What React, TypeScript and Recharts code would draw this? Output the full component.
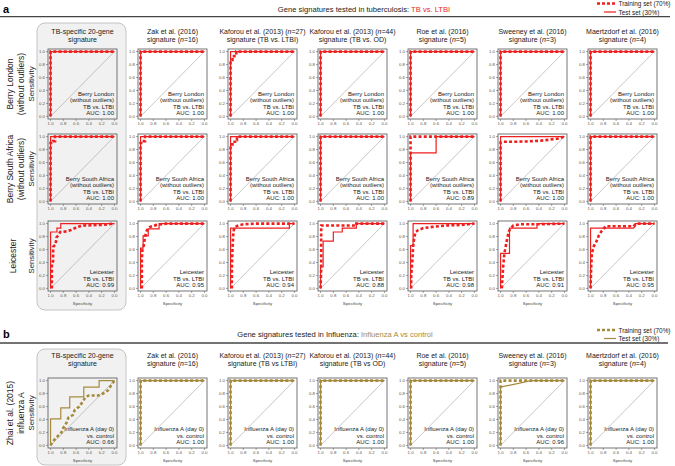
import { LineChart, Line, XAxis, YAxis, ReferenceLine } from 'recharts';

type Pt = [number, number]; // [specificity, sensitivity]

const RED = '#ee1f1f';
const GOLD = '#a68a3c';
const FONT = '"Liberation Sans", Arial, Helvetica, sans-serif';

const TICKS = [0, 0.2, 0.4, 0.6, 0.8, 1];

const SIG_TITLES_A = [
  ['TB-specific 20-gene', 'signature'],
  ['Zak et al. (2016)', 'signature (n=16)'],
  ['Kaforou et al. (2013) (n=27)', 'signature (TB vs. LTBI)'],
  ['Kaforou et al. (2013) (n=44)', 'signature (TB vs. OD)'],
  ['Roe et al. (2016)', 'signature (n=5)'],
  ['Sweeney et al. (2016)', 'signature (n=3)'],
  ['Maertzdorf et al. (2016)', 'signature (n=4)'],
];
const SIG_TITLES_B = [
  ['TB-specific 20-gene', 'signature'],
  ['Zak et al. (2016)', 'signature (n=16)'],
  ['Kaforou et al. (2013) (n=27)', 'signature (TB vs LTBI)'],
  ['Kaforou et al. (2013) (n=44)', 'signature (TB vs OD)'],
  ['Roe et al. (2016)', 'signature (n=5)'],
  ['Sweeney et al. (2016)', 'signature (n=3)'],
  ['Maertzdorf et al. (2016)', 'signature (n=4)'],
];

const ROW_LABELS_A = [
  ['Berry London', '(without outliers)'],
  ['Berry South Africa', '(without outliers)'],
  ['Leicester'],
];
const ROW_NOTES_A = [
  ['Berry London', '(without outliers)', 'TB vs. LTBI'],
  ['Berry South Africa', '(without outliers)', 'TB vs. LTBI'],
  ['Leicester', 'TB vs. LTBI'],
];
const ROW_LABEL_B = ['Zhai et al. (2015)', 'influenza A'];
const ROW_NOTES_B = ['Influenza A (day 0)', 'vs. control'];

const AUC_LONDON = [1.0, 1.0, 1.0, 1.0, 1.0, 1.0, 1.0];
const AUC_SOUTH_AFRICA = [1.0, 1.0, 1.0, 1.0, 0.89, 1.0, 1.0];
const AUC_LEICESTER = [0.99, 0.95, 0.94, 0.88, 0.98, 0.91, 0.95];
const AUC_INFLUENZA = [0.66, 1.0, 1.0, 1.0, 1.0, 0.96, 1.0];

const PERFECT: Pt[] = [[1, 0], [1, 1], [0, 1]];

// Berry London
const lonKaf27Train: Pt[] = [[1, 0], [1, 0.87], [0.97, 0.87], [0.97, 0.93], [0.91, 0.93], [0.91, 1], [0, 1]];

// Berry South Africa
const saTb20Train: Pt[] = [[1, 0], [1, 0.9], [0.96, 0.9], [0.96, 0.93], [0.93, 0.93], [0.93, 1], [0, 1]];
const saZakTrain: Pt[] = [[1, 0], [1, 0.9], [0.97, 0.9], [0.97, 0.93], [0.93, 0.93], [0.93, 1], [0, 1]];
const saKaf27Train: Pt[] = [[1, 0], [1, 0.88], [0.97, 0.88], [0.97, 0.92], [0.93, 0.92], [0.93, 0.95], [0.9, 0.95], [0.9, 1], [0, 1]];
const saRoeTest: Pt[] = [[1, 0], [1, 0.75], [0.6, 0.75], [0.6, 1], [0, 1]];
const saSweeneyTrain: Pt[] = [[1, 0], [1, 0.91], [0.97, 0.92], [0.8, 0.92], [0.6, 0.925], [0.4, 0.935], [0.25, 0.95], [0.1, 0.97], [0, 1]];

// Leicester
const leiTb20Test: Pt[] = [[1, 0], [1, 0.87], [0.9, 0.87], [0.9, 0.93], [0.84, 0.93], [0.84, 1], [0, 1]];
const leiTb20Train: Pt[] = [[0.98, 0], [0.98, 0.39], [0.96, 0.42], [0.96, 0.64], [0.92, 0.68], [0.91, 0.78], [0.88, 0.82], [0.85, 0.87], [0.75, 0.88], [0.68, 0.9], [0.6, 0.94], [0.5, 0.97], [0.2, 0.98], [0, 1]];
const leiZakTest: Pt[] = [[1, 0], [1, 0.62], [0.96, 0.62], [0.96, 0.81], [0.88, 0.81], [0.88, 0.92], [0.71, 0.92], [0.71, 1], [0, 1]];
const leiZakTrain: Pt[] = [[0.98, 0], [0.98, 0.45], [0.97, 0.6], [0.95, 0.66], [0.93, 0.8], [0.9, 0.9], [0.85, 0.95], [0.75, 0.98], [0.6, 1], [0, 1]];
const leiKaf27Test: Pt[] = [[1, 0], [1, 0.93], [0.08, 0.93], [0.08, 1], [0, 1]];
const leiKaf27Train: Pt[] = [[0.98, 0], [0.98, 0.3], [0.97, 0.6], [0.96, 0.8], [0.95, 0.9], [0.93, 0.95], [0.88, 0.97], [0.8, 0.99], [0.6, 1], [0, 1]];
const leiKaf44Test: Pt[] = [[1, 0], [1, 0.33], [0.96, 0.33], [0.96, 0.73], [0.8, 0.73], [0.8, 0.87], [0.66, 0.87], [0.66, 0.93], [0.44, 0.93], [0.44, 1], [0, 1]];
const leiKaf44Train: Pt[] = [[1, 0], [0.99, 0.3], [0.99, 0.97], [0.44, 0.97], [0.44, 1], [0, 1]];
const leiRoeTest: Pt[] = [[1, 0], [1, 0.66], [0.96, 0.66], [0.96, 1], [0, 1]];
const leiRoeTrain: Pt[] = [[0.99, 0], [0.99, 0.2], [0.97, 0.45], [0.96, 0.65], [0.94, 0.8], [0.92, 0.87], [0.88, 0.9], [0.8, 0.93], [0.65, 0.95], [0.45, 0.97], [0.2, 0.98], [0, 1]];
const leiSweeneyTest: Pt[] = [[1, 0], [1, 0.54], [0.86, 0.54], [0.86, 0.93], [0.43, 0.93], [0.43, 1], [0, 1]];
const leiSweeneyTrain: Pt[] = [[0.98, 0], [0.96, 0.33], [0.94, 0.54], [0.9, 0.75], [0.87, 0.88], [0.84, 0.93], [0.8, 0.97], [0.7, 0.99], [0.4, 0.99], [0, 1]];
const leiMaertzdorfTest: Pt[] = [[1, 0], [1, 0.93], [0.33, 0.93], [0.3, 0.96], [0.3, 1], [0, 1]];
const leiMaertzdorfTrain: Pt[] = [[1, 0], [0.99, 0.33], [0.98, 0.54], [0.95, 0.65], [0.91, 0.72], [0.87, 0.82], [0.83, 0.88], [0.76, 0.96], [0.33, 0.96], [0.28, 1], [0, 1]];

// Zhai influenza A
const fluTb20Test: Pt[] = [[1, 0], [1, 0.41], [0.84, 0.41], [0.84, 0.58], [0.7, 0.58], [0.7, 0.75], [0.48, 0.75], [0.48, 0.9], [0.24, 0.9], [0.24, 1], [0, 1]];
const fluTb20Train: Pt[] = [[1, 0], [0.97, 0.05], [0.93, 0.1], [0.88, 0.15], [0.83, 0.2], [0.8, 0.27], [0.75, 0.35], [0.72, 0.43], [0.65, 0.47], [0.62, 0.55], [0.55, 0.6], [0.5, 0.67], [0.45, 0.75], [0.4, 0.77], [0.25, 0.77], [0.18, 0.8], [0.1, 0.85], [0.05, 0.93], [0, 1]];
const fluSweeneyTest: Pt[] = [[1, 0], [1, 0.9], [0.95, 0.91], [0.85, 0.93], [0.7, 0.96], [0.53, 1], [0, 1]];

const TRAIN_A: Pt[][][] = [
  [PERFECT, PERFECT, lonKaf27Train, PERFECT, PERFECT, PERFECT, PERFECT],
  [saTb20Train, saZakTrain, saKaf27Train, PERFECT, PERFECT, saSweeneyTrain, PERFECT],
  [leiTb20Train, leiZakTrain, leiKaf27Train, leiKaf44Train, leiRoeTrain, leiSweeneyTrain, leiMaertzdorfTrain],
];
const TEST_A: Pt[][][] = [
  [PERFECT, PERFECT, PERFECT, PERFECT, PERFECT, PERFECT, PERFECT],
  [PERFECT, PERFECT, PERFECT, PERFECT, saRoeTest, PERFECT, PERFECT],
  [leiTb20Test, leiZakTest, leiKaf27Test, leiKaf44Test, leiRoeTest, leiSweeneyTest, leiMaertzdorfTest],
];
const AUC_A = [AUC_LONDON, AUC_SOUTH_AFRICA, AUC_LEICESTER];
const TRAIN_B: Pt[][] = [fluTb20Train, PERFECT, PERFECT, PERFECT, PERFECT, PERFECT, PERFECT];
const TEST_B: Pt[][] = [fluTb20Test, PERFECT, PERFECT, PERFECT, PERFECT, fluSweeneyTest, PERFECT];

// layout
const COL_X = [48, 138, 228, 318, 408, 498, 588];
const ROW_Y_A = [49, 134, 221];
const ROW_Y_B = 378;
const BOX_W = 69;
const BOX_H = 70;
const Y_AX = 14;
const X_AX = 12;
const PAD_R = 6;

const toRows = (pts: Pt[]) => pts.map(([x, y]) => ({ x, y }));

function Title({ text, x, y }: { text: string; x: number; y: number }) {
  const i = text.indexOf('(n=');
  return (
    <text x={x} y={y} textAnchor="middle" fontSize={7} fill="#222">
      {i < 0 ? text : (
        <>
          {text.slice(0, i + 1)}
          <tspan fontStyle="italic">n</tspan>
          {text.slice(i + 2)}
        </>
      )}
    </text>
  );
}

function Roc({ left, top, train, test, color }: { left: number; top: number; train: Pt[]; test: Pt[]; color: string }) {
  return (
    <div style={{ position: 'absolute', left: left - Y_AX, top: top }}>
      <LineChart width={Y_AX + BOX_W + PAD_R} height={BOX_H + X_AX}
        margin={{ top: 0, right: PAD_R, bottom: 0, left: 0 }}>
        <XAxis type="number" dataKey="x" domain={[-0.04, 1.04]} reversed ticks={TICKS}
          allowDataOverflow tickFormatter={(v: number) => v.toFixed(1)} height={X_AX}
          axisLine={false} tickSize={2} tickMargin={1}
          tickLine={{ stroke: '#666', strokeWidth: 0.6 }}
          tick={{ fontSize: 4.3, fill: '#555', fontFamily: FONT }} />
        <YAxis type="number" dataKey="y" domain={[-0.04, 1.04]} ticks={TICKS}
          allowDataOverflow tickFormatter={(v: number) => v.toFixed(1)} width={Y_AX}
          axisLine={false} tickSize={2} tickMargin={1}
          tickLine={{ stroke: '#666', strokeWidth: 0.6 }}
          tick={{ fontSize: 4.3, fill: '#555', fontFamily: FONT }} />
        <ReferenceLine segment={[{ x: 1, y: 0 }, { x: 0, y: 1 }]} stroke="#a0a0a0" strokeWidth={0.6} />
        <Line data={toRows(test)} dataKey="y" type="linear" stroke={color} strokeWidth={1.2}
          dot={false} isAnimationActive={false} />
        <Line data={toRows(train)} dataKey="y" type="linear" stroke={color} strokeWidth={2.6}
          strokeDasharray="3 2.2" dot={false} isAnimationActive={false} />
      </LineChart>
    </div>
  );
}

function Notes({ lines, auc, col, top }: { lines: string[]; auc: number; col: number; top: number }) {
  const all = [...lines, `AUC: ${auc.toFixed(2)}`];
  const x = COL_X[col] + BOX_W - 3;
  const last = top + BOX_H - 4;
  return (
    <>
      {all.map((t, i) => (
        <text key={i} x={x} y={last - (all.length - 1 - i) * 6.4} textAnchor="end" fontSize={6} fill="#222">{t}</text>
      ))}
    </>
  );
}

function RowLabel({ lines, cy }: { lines: string[]; cy: number }) {
  const xs = lines.length === 1 ? [15.5] : [13, 24];
  return (
    <>
      {lines.map((t, i) => (
        <text key={i} transform={`translate(${xs[i]},${cy}) rotate(-90)`} textAnchor="middle" fontSize={8.5} fill="#222">{t}</text>
      ))}
      <text transform={`translate(34,${cy}) rotate(-90)`} textAnchor="middle" fontSize={7.8} fill="#222">Sensitivity</text>
    </>
  );
}

function Legend({ y, color }: { y: number; color: string }) {
  return (
    <>
      <line x1={597} x2={616} y1={y} y2={y} stroke={color} strokeWidth={2.6} strokeDasharray="3 2" />
      <text x={618.5} y={y + 2.8} fontSize={6.4} fill="#222">Training set (70%)</text>
      <line x1={604} x2={616} y1={y + 8.5} y2={y + 8.5} stroke={color} strokeWidth={1.2} />
      <text x={618.5} y={y + 11.3} fontSize={6.4} fill="#222">Test set (30%)</text>
    </>
  );
}

export default function App() {
  return (
    <div style={{ position: 'absolute', left: 0, top: 0, width: 675, height: 466, background: '#fff', fontFamily: FONT, overflow: 'hidden' }}>
      <svg width={675} height={466} style={{ position: 'absolute', left: 0, top: 0 }} fontFamily={FONT}>
        {/* panel a header */}
        <text x={3} y={12.5} fontSize={11} fontWeight="bold">a</text>
        <text x={364} y={11.5} textAnchor="middle" fontSize={7.6} fill="#222">
          Gene signatures tested in tuberculosis: <tspan fill={RED}>TB vs. LTBI</tspan>
        </text>
        <Legend y={3.5} color={RED} />
        <line x1={0} x2={670} y1={16.7} y2={16.7} stroke="#444" strokeWidth={1.3} />
        <rect x={37} y={23} width={89} height={287} rx={8} fill="#f1f1f1" stroke="#c4c4c4" strokeWidth={1} />
        {SIG_TITLES_A.map((t, c) => (
          <g key={c}>
            <Title text={t[0]} x={COL_X[c] + BOX_W / 2} y={34} />
            <Title text={t[1]} x={COL_X[c] + BOX_W / 2} y={42} />
          </g>
        ))}
        {ROW_LABELS_A.map((l, r) => (
          <RowLabel key={r} lines={l} cy={ROW_Y_A[r] + BOX_H / 2} />
        ))}
        {ROW_Y_A.map((top, r) => COL_X.map((x, c) => (
          <g key={`${r}-${c}`}>
            <rect x={x} y={top} width={BOX_W} height={BOX_H} fill="none" stroke="#666" strokeWidth={0.9} />
            <Notes lines={ROW_NOTES_A[r]} auc={AUC_A[r][c]} col={c} top={top} />
          </g>
        )))}
        {COL_X.map((x, c) => (
          <text key={c} x={x + BOX_W / 2} y={ROW_Y_A[2] + BOX_H + 14} textAnchor="middle" fontSize={4.3} fill="#444">Specificity</text>
        ))}

        {/* panel b header */}
        <text x={3} y={338} fontSize={11} fontWeight="bold">b</text>
        <text x={335} y={337} textAnchor="middle" fontSize={7.6} fill="#222">
          Gene signatures tested in Influenza: <tspan fill={GOLD}>Influenza A vs control</tspan>
        </text>
        <Legend y={330} color={GOLD} />
        <line x1={0} x2={668} y1={343} y2={343} stroke="#444" strokeWidth={1.3} />
        <rect x={37} y={349} width={89} height={116} rx={8} fill="#f1f1f1" stroke="#c4c4c4" strokeWidth={1} />
        {SIG_TITLES_B.map((t, c) => (
          <g key={c}>
            <Title text={t[0]} x={COL_X[c] + BOX_W / 2} y={357.5} />
            <Title text={t[1]} x={COL_X[c] + BOX_W / 2} y={365.5} />
          </g>
        ))}
        <RowLabel lines={ROW_LABEL_B} cy={ROW_Y_B + BOX_H / 2} />
        {COL_X.map((x, c) => (
          <g key={c}>
            <rect x={x} y={ROW_Y_B} width={BOX_W} height={BOX_H} fill="none" stroke="#666" strokeWidth={0.9} />
            <Notes lines={ROW_NOTES_B} auc={AUC_INFLUENZA[c]} col={c} top={ROW_Y_B} />
            <text x={x + BOX_W / 2} y={ROW_Y_B + BOX_H + 14} textAnchor="middle" fontSize={4.3} fill="#444">Specificity</text>
          </g>
        ))}
      </svg>

      {ROW_Y_A.map((top, r) => COL_X.map((x, c) => (
        <Roc key={`a${r}-${c}`} left={x} top={top} train={TRAIN_A[r][c]} test={TEST_A[r][c]} color={RED} />
      )))}
      {COL_X.map((x, c) => (
        <Roc key={`b${c}`} left={x} top={ROW_Y_B} train={TRAIN_B[c]} test={TEST_B[c]} color={GOLD} />
      ))}
    </div>
  );
}
